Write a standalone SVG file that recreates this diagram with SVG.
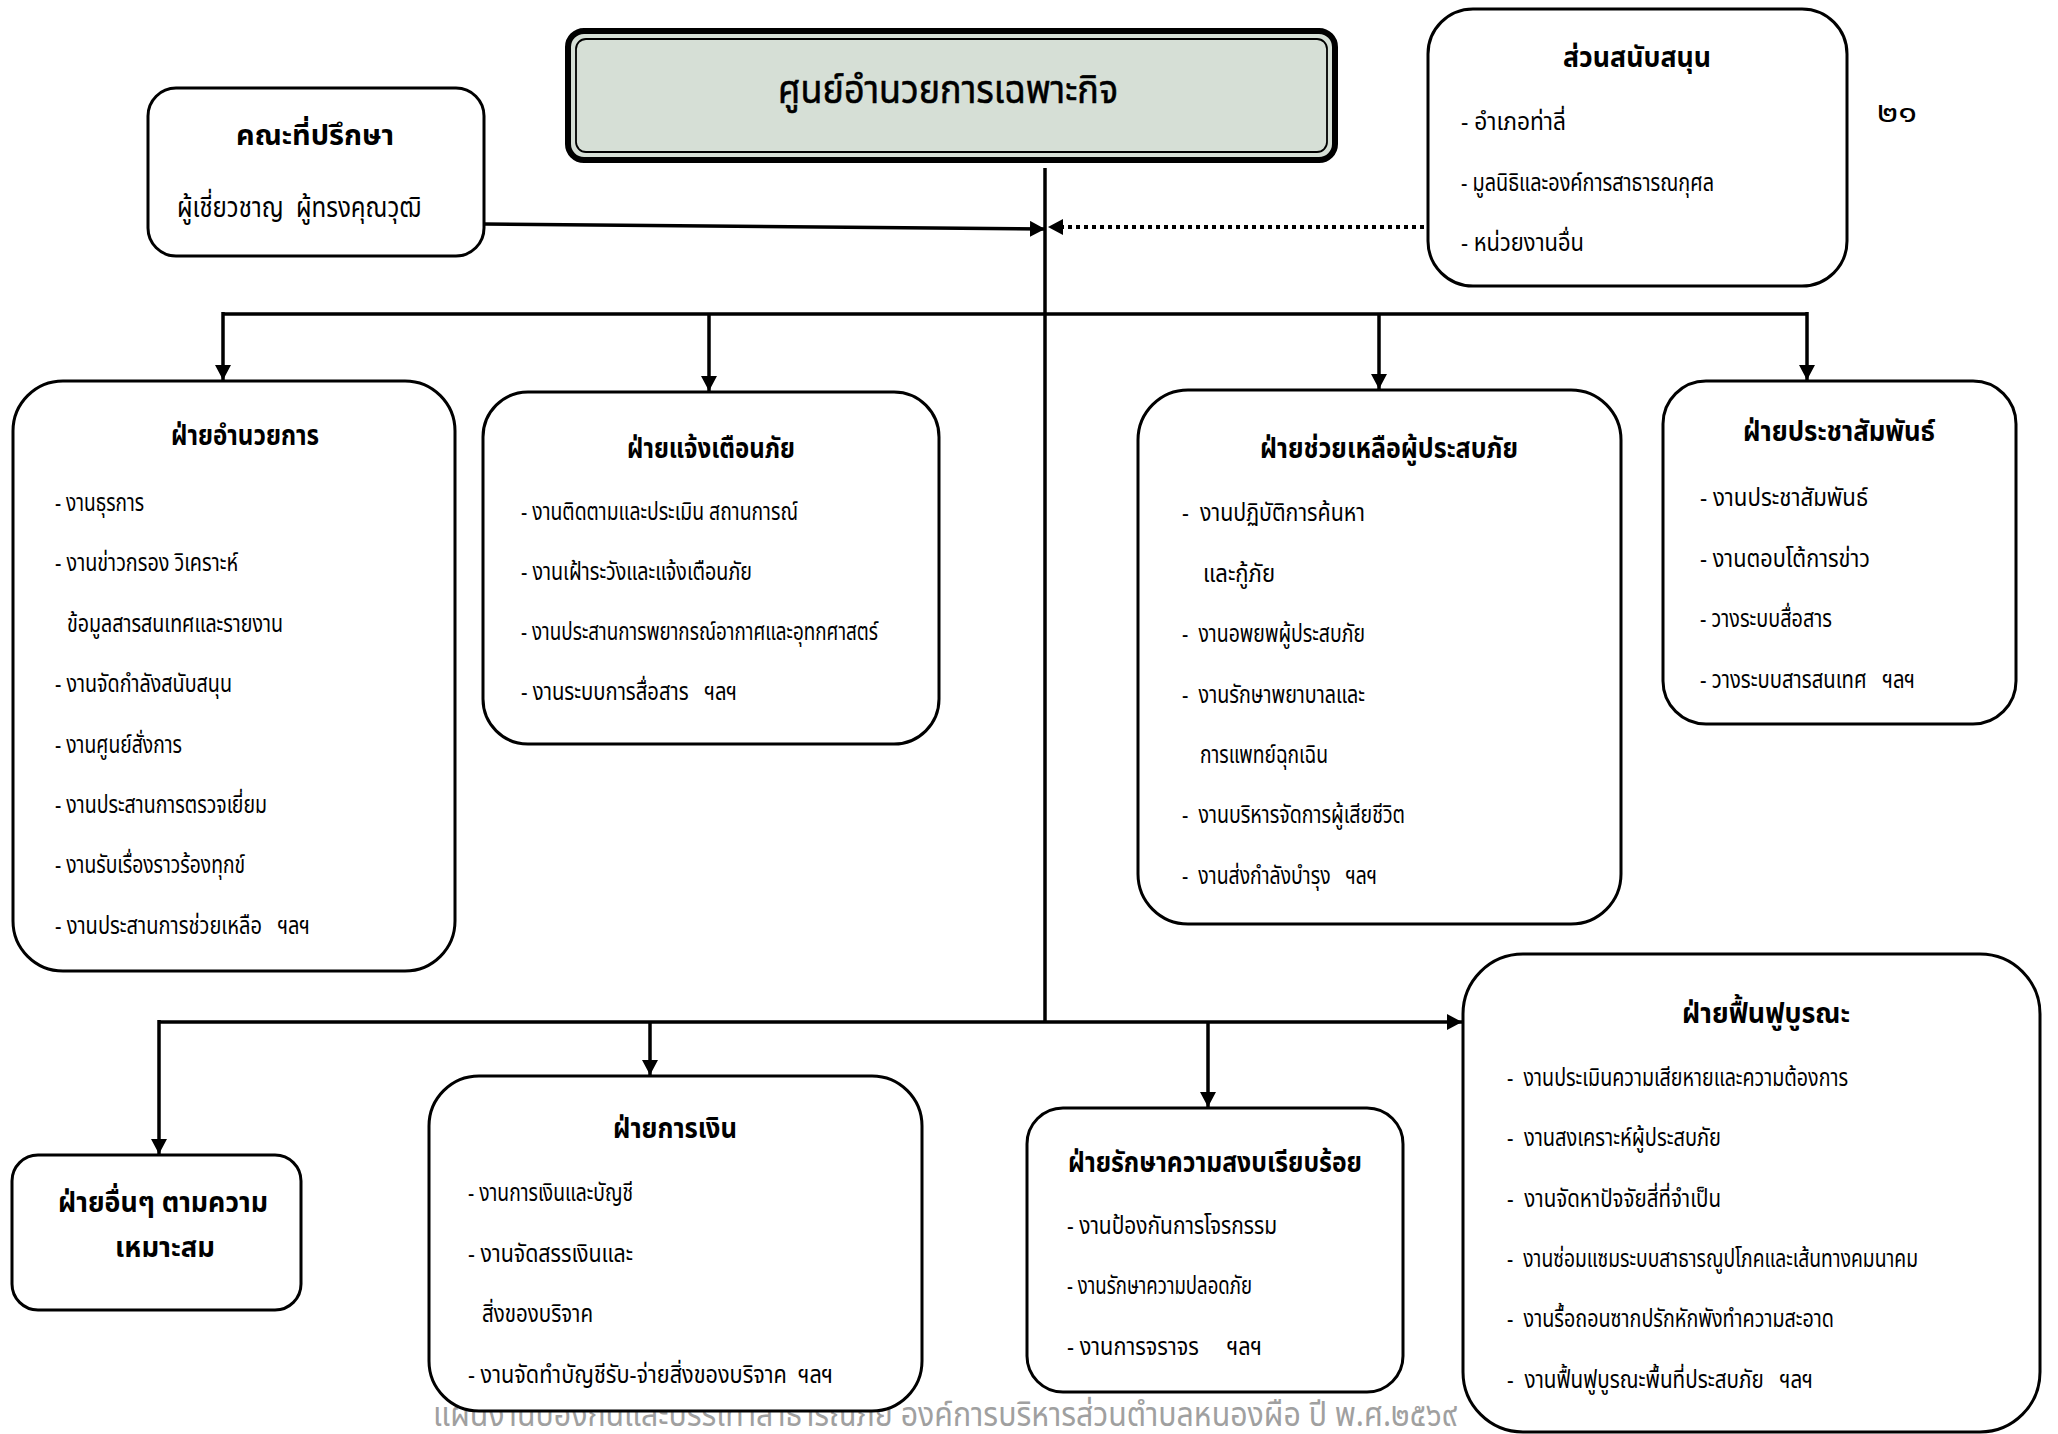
<svg xmlns="http://www.w3.org/2000/svg" width="2058" height="1434" viewBox="0 0 2058 1434">
<defs>
<style>
text{font-family:"Noto Sans Thai","Noto Sans","DejaVu Sans",sans-serif;fill:#000;white-space:pre}
.box{fill:#fff;stroke:#000;stroke-width:3}
.ti{font-size:28px;font-weight:bold;text-anchor:middle}
.it{font-size:24px}
.sub{font-size:28px}
.ft{font-size:34px;fill:#a0a0a0}
.ln{fill:none;stroke:#000;stroke-width:3.5}
.dot{fill:none;stroke:#000;stroke-width:4;stroke-dasharray:4 4}
</style>
<marker id="ah" markerUnits="userSpaceOnUse" markerWidth="16" markerHeight="18" refX="15" refY="8" orient="auto">
<path d="M0,0 L15,8 L0,16 z" fill="#000"/>
</marker>
</defs>
<rect width="2058" height="1434" fill="#fff"/>
<text class="ft" x="433" y="1426" textLength="1024" lengthAdjust="spacingAndGlyphs">แผนงานป้องกันและบรรเทาสาธารณภัย องค์การบริหารส่วนตำบลหนองผือ ปี พ.ศ.๒๕๖๙</text>
<text x="1877" y="122" style="font-size:28px" textLength="40" lengthAdjust="spacingAndGlyphs">๒๑</text>
<g id="connectors">
<line class="ln" x1="1045" y1="168" x2="1045" y2="1023"/>
<line class="ln" x1="484" y1="224" x2="1045" y2="229" marker-end="url(#ah)"/>
<line class="dot" x1="1424" y1="227" x2="1048" y2="227" marker-end="url(#ah)"/>
<line class="ln" x1="223" y1="314" x2="1807" y2="314"/>
<line class="ln" x1="223" y1="312" x2="223" y2="380" marker-end="url(#ah)"/>
<line class="ln" x1="709" y1="314" x2="709" y2="391" marker-end="url(#ah)"/>
<line class="ln" x1="1379" y1="314" x2="1379" y2="389" marker-end="url(#ah)"/>
<line class="ln" x1="1807" y1="312" x2="1807" y2="380" marker-end="url(#ah)"/>
<line class="ln" x1="159" y1="1022" x2="1462" y2="1022" marker-end="url(#ah)"/>
<line class="ln" x1="159" y1="1020" x2="159" y2="1154" marker-end="url(#ah)"/>
<line class="ln" x1="650" y1="1022" x2="650" y2="1075" marker-end="url(#ah)"/>
<line class="ln" x1="1208" y1="1022" x2="1208" y2="1107" marker-end="url(#ah)"/>
</g>
<g id="center">
<rect x="568" y="31" width="767" height="129" rx="16" fill="#d6dfd6" stroke="#000" stroke-width="6"/>
<rect x="576" y="39" width="751" height="113" rx="10" fill="none" stroke="#000" stroke-width="1.8"/>
<text x="948" y="103" style="font-size:40px;text-anchor:middle;stroke:#000;stroke-width:0.6" textLength="340" lengthAdjust="spacingAndGlyphs">ศูนย์อำนวยการเฉพาะกิจ</text>
</g>
<g id="advisory">
<rect class="box" x="148" y="88" width="336" height="168" rx="28"/>
<text class="ti" x="315" y="145" textLength="158" lengthAdjust="spacingAndGlyphs">คณะที่ปรึกษา</text>
<text class="sub" x="177" y="217" textLength="244" lengthAdjust="spacingAndGlyphs">ผู้เชี่ยวชาญ  ผู้ทรงคุณวุฒิ</text>
</g>
<g id="support">
<rect class="box" x="1428" y="9" width="419" height="277" rx="45"/>
<text class="ti" x="1637" y="67" textLength="148" lengthAdjust="spacingAndGlyphs">ส่วนสนับสนุน</text>
<text class="it" x="1461" y="130" textLength="105" lengthAdjust="spacingAndGlyphs">- อำเภอท่าลี่</text>
<text class="it" x="1461" y="191" textLength="253" lengthAdjust="spacingAndGlyphs">- มูลนิธิและองค์การสาธารณกุศล</text>
<text class="it" x="1461" y="251" textLength="123" lengthAdjust="spacingAndGlyphs">- หน่วยงานอื่น</text>
</g>
<g id="admin">
<rect class="box" x="13" y="381" width="442" height="590" rx="50"/>
<text class="ti" x="245" y="445" textLength="148" lengthAdjust="spacingAndGlyphs">ฝ่ายอำนวยการ</text>
<text class="it" x="55" y="511" textLength="89" lengthAdjust="spacingAndGlyphs">- งานธุรการ</text>
<text class="it" x="55" y="571" textLength="183" lengthAdjust="spacingAndGlyphs">- งานข่าวกรอง วิเคราะห์</text>
<text class="it" x="67" y="632" textLength="216" lengthAdjust="spacingAndGlyphs">ข้อมูลสารสนเทศและรายงาน</text>
<text class="it" x="55" y="692" textLength="177" lengthAdjust="spacingAndGlyphs">- งานจัดกำลังสนับสนุน</text>
<text class="it" x="55" y="753" textLength="127" lengthAdjust="spacingAndGlyphs">- งานศูนย์สั่งการ</text>
<text class="it" x="55" y="813" textLength="212" lengthAdjust="spacingAndGlyphs">- งานประสานการตรวจเยี่ยม</text>
<text class="it" x="55" y="873" textLength="190" lengthAdjust="spacingAndGlyphs">- งานรับเรื่องราวร้องทุกข์</text>
<text class="it" x="55" y="934" textLength="255" lengthAdjust="spacingAndGlyphs">- งานประสานการช่วยเหลือ   ฯลฯ</text>
</g>
<g id="warning">
<rect class="box" x="483" y="392" width="456" height="352" rx="45"/>
<text class="ti" x="711" y="458" textLength="168" lengthAdjust="spacingAndGlyphs">ฝ่ายแจ้งเตือนภัย</text>
<text class="it" x="521" y="520" textLength="277" lengthAdjust="spacingAndGlyphs">- งานติดตามและประเมิน สถานการณ์</text>
<text class="it" x="521" y="580" textLength="231" lengthAdjust="spacingAndGlyphs">- งานเฝ้าระวังและแจ้งเตือนภัย</text>
<text class="it" x="521" y="640" textLength="357" lengthAdjust="spacingAndGlyphs">- งานประสานการพยากรณ์อากาศและอุทกศาสตร์</text>
<text class="it" x="521" y="700" textLength="216" lengthAdjust="spacingAndGlyphs">- งานระบบการสื่อสาร   ฯลฯ</text>
</g>
<g id="relief">
<rect class="box" x="1138" y="390" width="483" height="534" rx="50"/>
<text class="ti" x="1389" y="458" textLength="258" lengthAdjust="spacingAndGlyphs">ฝ่ายช่วยเหลือผู้ประสบภัย</text>
<text class="it" x="1182" y="521" textLength="183" lengthAdjust="spacingAndGlyphs">-  งานปฏิบัติการค้นหา</text>
<text class="it" x="1203" y="582" textLength="72" lengthAdjust="spacingAndGlyphs">และกู้ภัย</text>
<text class="it" x="1182" y="642" textLength="183" lengthAdjust="spacingAndGlyphs">-  งานอพยพผู้ประสบภัย</text>
<text class="it" x="1182" y="703" textLength="183" lengthAdjust="spacingAndGlyphs">-  งานรักษาพยาบาลและ</text>
<text class="it" x="1200" y="763" textLength="128" lengthAdjust="spacingAndGlyphs">การแพทย์ฉุกเฉิน</text>
<text class="it" x="1182" y="823" textLength="223" lengthAdjust="spacingAndGlyphs">-  งานบริหารจัดการผู้เสียชีวิต</text>
<text class="it" x="1182" y="884" textLength="195" lengthAdjust="spacingAndGlyphs">-  งานส่งกำลังบำรุง   ฯลฯ</text>
</g>
<g id="pr">
<rect class="box" x="1663" y="381" width="353" height="343" rx="43"/>
<text class="ti" x="1839" y="441" textLength="192" lengthAdjust="spacingAndGlyphs">ฝ่ายประชาสัมพันธ์</text>
<text class="it" x="1700" y="506" textLength="168" lengthAdjust="spacingAndGlyphs">- งานประชาสัมพันธ์</text>
<text class="it" x="1700" y="567" textLength="170" lengthAdjust="spacingAndGlyphs">- งานตอบโต้การข่าว</text>
<text class="it" x="1700" y="627" textLength="132" lengthAdjust="spacingAndGlyphs">- วางระบบสื่อสาร</text>
<text class="it" x="1700" y="688" textLength="215" lengthAdjust="spacingAndGlyphs">- วางระบบสารสนเทศ   ฯลฯ</text>
</g>
<g id="other">
<rect class="box" x="12" y="1155" width="289" height="155" rx="26"/>
<text class="ti" x="163" y="1212" textLength="210" lengthAdjust="spacingAndGlyphs">ฝ่ายอื่นๆ ตามความ</text>
<text class="ti" x="165" y="1257" textLength="100" lengthAdjust="spacingAndGlyphs">เหมาะสม</text>
</g>
<g id="finance">
<rect class="box" x="429" y="1076" width="493" height="335" rx="50"/>
<text class="ti" x="675" y="1138" textLength="124" lengthAdjust="spacingAndGlyphs">ฝ่ายการเงิน</text>
<text class="it" x="468" y="1201" textLength="165" lengthAdjust="spacingAndGlyphs">- งานการเงินและบัญชี</text>
<text class="it" x="468" y="1262" textLength="165" lengthAdjust="spacingAndGlyphs">- งานจัดสรรเงินและ</text>
<text class="it" x="482" y="1322" textLength="111" lengthAdjust="spacingAndGlyphs">สิ่งของบริจาค</text>
<text class="it" x="468" y="1383" textLength="365" lengthAdjust="spacingAndGlyphs">- งานจัดทำบัญชีรับ-จ่ายสิ่งของบริจาค  ฯลฯ</text>
</g>
<g id="security">
<rect class="box" x="1027" y="1108" width="376" height="284" rx="36"/>
<text class="ti" x="1215" y="1172" textLength="294" lengthAdjust="spacingAndGlyphs">ฝ่ายรักษาความสงบเรียบร้อย</text>
<text class="it" x="1067" y="1234" textLength="210" lengthAdjust="spacingAndGlyphs">- งานป้องกันการโจรกรรม</text>
<text class="it" x="1067" y="1294" textLength="185" lengthAdjust="spacingAndGlyphs">- งานรักษาความปลอดภัย</text>
<text class="it" x="1067" y="1355" textLength="195" lengthAdjust="spacingAndGlyphs">- งานการจราจร     ฯลฯ</text>
</g>
<g id="restore">
<rect class="box" x="1463" y="954" width="577" height="478" rx="60"/>
<text class="ti" x="1766" y="1023" textLength="168" lengthAdjust="spacingAndGlyphs">ฝ่ายฟื้นฟูบูรณะ</text>
<text class="it" x="1507" y="1086" textLength="341" lengthAdjust="spacingAndGlyphs">-  งานประเมินความเสียหายและความต้องการ</text>
<text class="it" x="1507" y="1146" textLength="214" lengthAdjust="spacingAndGlyphs">-  งานสงเคราะห์ผู้ประสบภัย</text>
<text class="it" x="1507" y="1207" textLength="214" lengthAdjust="spacingAndGlyphs">-  งานจัดหาปัจจัยสี่ที่จำเป็น</text>
<text class="it" x="1507" y="1267" textLength="411" lengthAdjust="spacingAndGlyphs">-  งานซ่อมแซมระบบสาธารณูปโภคและเส้นทางคมนาคม</text>
<text class="it" x="1507" y="1327" textLength="327" lengthAdjust="spacingAndGlyphs">-  งานรื้อถอนซากปรักหักพังทำความสะอาด</text>
<text class="it" x="1507" y="1388" textLength="306" lengthAdjust="spacingAndGlyphs">-  งานฟื้นฟูบูรณะพื้นที่ประสบภัย   ฯลฯ</text>
</g>
</svg>
